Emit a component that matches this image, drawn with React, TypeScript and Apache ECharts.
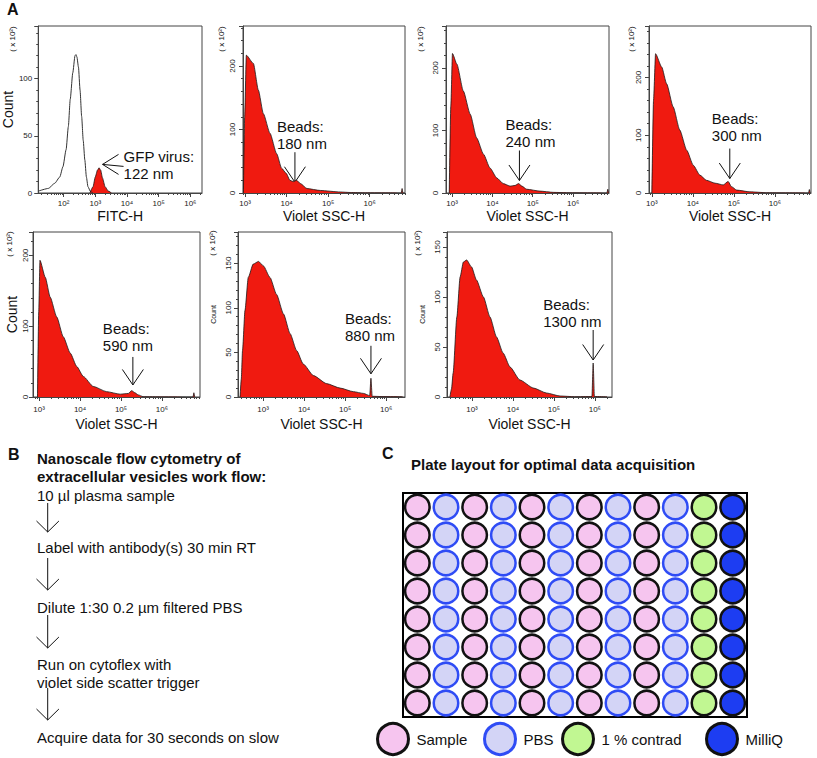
import React, { useEffect, useRef } from 'react';
import * as echarts from 'echarts';

const FONT = '"Liberation Sans", Arial, Helvetica, sans-serif';
const RED = '#f01a10';

// ---------- Panel A data (x = log10 of channel intensity, y = count ×10²) ----------
const gfpOutlineLogX = [1.22, 1.52, 1.72, 1.88, 1.98, 2.08, 2.15, 2.21, 2.29, 2.36, 2.39, 2.42, 2.47, 2.52, 2.57, 2.62, 2.67, 2.72, 2.77, 2.85, 2.93];
const gfpOutlineCount = [1.8, 4, 8.5, 14, 23, 38, 58, 82, 105, 120, 121, 119, 110, 90, 67, 46, 29, 14, 5.5, 1.2, 0];
const gfpVirusLogX = [2.83, 2.93, 3.0, 3.07, 3.12, 3.17, 3.23, 3.31, 3.41, 3.51];
const gfpVirusCount = [0, 5.5, 14, 20, 22, 20, 13, 5.5, 1.7, 0];

const beads180LogX = [2.96, 2.99, 3.03, 3.2, 3.32, 3.44, 3.6, 3.76, 3.88, 3.99, 4.08, 4.16, 4.24, 4.33, 4.49, 4.81, 5.29, 5.53, 5.9, 6.5, 6.76, 6.78, 6.8, 6.84];
const beads180Count = [0, 120, 217, 204, 162, 125, 94, 62, 39, 31, 20, 18, 20, 15, 7, 4, 1.6, 0.8, 0.4, 0.3, 0, 7, 0, 0];

const beads240LogX = [2.93, 2.97, 3.01, 3.12, 3.28, 3.45, 3.61, 3.78, 3.94, 4.11, 4.27, 4.44, 4.56, 4.65, 4.73, 4.85, 5.18, 5.51, 5.84, 6.5, 6.84, 6.86, 6.88];
const beads240Count = [0, 140, 223, 206, 163, 126, 88, 62, 40, 24, 15, 11, 12, 15, 11, 6, 3, 1, 0.5, 0.3, 0, 6, 0];

const beads300LogX = [3.0, 3.04, 3.09, 3.24, 3.36, 3.52, 3.68, 3.85, 4.01, 4.17, 4.33, 4.54, 4.74, 4.86, 4.94, 5.07, 5.39, 5.8, 6.5, 6.82, 6.84, 6.86];
const beads300Count = [0, 160, 241, 218, 189, 149, 109, 74, 48, 31, 22, 17, 14, 20, 11, 5, 2, 0.5, 0.3, 0, 6, 0];

const beads590LogX = [2.96, 2.99, 3.02, 3.15, 3.27, 3.43, 3.59, 3.76, 3.92, 4.08, 4.32, 4.65, 4.98, 5.18, 5.26, 5.34, 5.42, 5.54, 6.0, 6.76, 6.78, 6.8];
const beads590Count = [0, 120, 193, 169, 141, 113, 85, 62, 43, 29, 15, 7.5, 4, 5, 9, 6, 3, 0.5, 0.3, 0, 6, 0];

const beads880LogX = [2.44, 2.47, 2.5, 2.56, 2.64, 2.76, 2.89, 3.01, 3.17, 3.33, 3.5, 3.66, 3.82, 3.98, 4.23, 4.55, 4.88, 5.2, 5.45, 5.6, 5.63, 5.66, 5.9, 6.4];
const beads880Count = [0, 20, 52, 97, 134, 149, 152, 147, 134, 115, 93, 71, 52, 37, 24, 15, 10, 6, 4, 1.5, 21, 0.8, 0.5, 0.3];

const beads1300LogX = [2.46, 2.5, 2.54, 2.63, 2.71, 2.79, 2.87, 2.99, 3.11, 3.28, 3.44, 3.6, 3.76, 3.93, 4.17, 4.5, 4.82, 5.15, 5.5, 5.93, 5.96, 5.99, 6.3];
const beads1300Count = [0, 8, 24, 80, 120, 135, 137, 130, 117, 100, 80, 60, 44, 30, 17, 9, 4, 1, 0.3, 0.5, 34, 0.5, 0.2];

const majorDecadesGfp = [2, 3, 4, 5, 6];
const majorDecadesSsc = [3, 4, 5, 6];
const minorMultipliers = [2, 3, 4, 5, 6, 7, 8, 9];

// ---------- Panel B text ----------
const workflowHeading = ['Nanoscale flow cytometry of', 'extracellular vesicles work flow:'];
const workflowSteps = [
  ['10 µl plasma sample'],
  ['Label with antibody(s) 30 min RT'],
  ['Dilute 1:30 0.2 µm filtered PBS'],
  ['Run on cytoflex with', 'violet side scatter trigger'],
  ['Acquire data for 30 seconds on slow'],
];

// ---------- Panel C data ----------
const plateRows = ['A', 'B', 'C', 'D', 'E', 'F', 'G', 'H'];
const plateCols = ['1', '2', '3', '4', '5', '6', '7', '8', '9', '10', '11', '12'];
const plateColumnContent = ['Sample', 'PBS', 'Sample', 'PBS', 'Sample', 'PBS', 'Sample', 'PBS', 'Sample', 'PBS', '1 % contrad', 'MilliQ'];
const wellTypes = ['Sample', 'PBS', '1 % contrad', 'MilliQ'];

// ---------- layout / style ----------
const wellStyle: Record<string, { fill: string; border: string }> = {
  Sample: { fill: '#f6c5ef', border: '#111111' },
  PBS: { fill: '#d3d4f6', border: '#2f4cf5' },
  '1 % contrad': { fill: '#c1f792', border: '#111111' },
  MilliQ: { fill: '#1d3df2', border: '#111111' },
};
const legendPos: Record<string, number> = { Sample: 376, PBS: 483, '1 % contrad': 561, MilliQ: 705 };

type Panel = {
  left: number; top: number; width: number; height: number;
  xMin: number; xMax: number; yMax: number; yInt: number;
  majors: number[]; xName: string; xNameGap: number; xLabelMargin: number;
  yRotate: number; yLabelMargin: number; yName?: string; yNameSize?: number; yNameGap?: number;
  scaleLbl: [number, number];
  fills: { x: number[]; y: number[]; fill: boolean }[];
};

const panels: Panel[] = [
  { left: 33, top: 26, width: 169, height: 167, xMin: 1.2, xMax: 6.37, yMax: 146, yInt: 50, majors: majorDecadesGfp, xName: 'FITC-H', xNameGap: 16, xLabelMargin: 6, yRotate: 0, yLabelMargin: 6, yName: 'Count', yNameSize: 14, yNameGap: 15, scaleLbl: [12, 39],
    fills: [{ x: gfpOutlineLogX, y: gfpOutlineCount, fill: false }, { x: gfpVirusLogX, y: gfpVirusCount, fill: true }] },
  { left: 243, top: 26, width: 162, height: 167, xMin: 2.95, xMax: 6.85, yMax: 263, yInt: 100, majors: majorDecadesSsc, xName: 'Violet SSC-H', xNameGap: 16, xLabelMargin: 6, yRotate: 90, yLabelMargin: 7, scaleLbl: [221.7, 39],
    fills: [{ x: beads180LogX, y: beads180Count, fill: true }] },
  { left: 446, top: 26, width: 163, height: 167, xMin: 2.85, xMax: 6.89, yMax: 267, yInt: 100, majors: majorDecadesSsc, xName: 'Violet SSC-H', xNameGap: 16, xLabelMargin: 6, yRotate: 90, yLabelMargin: 7, scaleLbl: [420, 39],
    fills: [{ x: beads240LogX, y: beads240Count, fill: true }] },
  { left: 649, top: 26, width: 162, height: 167, xMin: 2.93, xMax: 6.88, yMax: 289, yInt: 100, majors: majorDecadesSsc, xName: 'Violet SSC-H', xNameGap: 16, xLabelMargin: 6, yRotate: 90, yLabelMargin: 7, scaleLbl: [631.7, 39],
    fills: [{ x: beads300LogX, y: beads300Count, fill: true }] },
  { left: 33, top: 232, width: 167, height: 165, xMin: 2.85, xMax: 6.93, yMax: 233, yInt: 100, majors: majorDecadesSsc, xName: 'Violet SSC-H', xNameGap: 20, xLabelMargin: 8, yRotate: 90, yLabelMargin: 4, yName: 'Count', yNameSize: 14, yNameGap: 14, scaleLbl: [9, 244],
    fills: [{ x: beads590LogX, y: beads590Count, fill: true }] },
  { left: 238, top: 232, width: 167, height: 165, xMin: 2.39, xMax: 6.46, yMax: 185, yInt: 50, majors: majorDecadesSsc, xName: 'Violet SSC-H', xNameGap: 20, xLabelMargin: 8, yRotate: 90, yLabelMargin: 6, yName: 'Count', yNameSize: 7, yNameGap: 21, scaleLbl: [212.5, 243],
    fills: [{ x: beads880LogX, y: beads880Count, fill: true }] },
  { left: 447, top: 232, width: 165, height: 165, xMin: 2.39, xMax: 6.42, yMax: 165, yInt: 50, majors: majorDecadesSsc, xName: 'Violet SSC-H', xNameGap: 20, xLabelMargin: 8, yRotate: 90, yLabelMargin: 6, yName: 'Count', yNameSize: 7, yNameGap: 21, scaleLbl: [417, 243],
    fills: [{ x: beads1300LogX, y: beads1300Count, fill: true }] },
];

type Annot = { panel: number; tip: [number, number]; lines: string[]; dir: 'down' | 'left'; shaft: number; textDx: number; gap: number };
const annotations: Annot[] = [
  { panel: 0, tip: [3.23, 25], lines: ['GFP virus:', '122 nm'], dir: 'left', shaft: 21, textDx: 21, gap: 0 },
  { panel: 1, tip: [4.2, 17], lines: ['Beads:', '180 nm'], dir: 'down', shaft: 30, textDx: -18, gap: 0 },
  { panel: 2, tip: [4.67, 20], lines: ['Beads:', '240 nm'], dir: 'down', shaft: 30, textDx: -14, gap: 0 },
  { panel: 3, tip: [4.9, 25], lines: ['Beads:', '300 nm'], dir: 'down', shaft: 30, textDx: -18, gap: 5 },
  { panel: 4, tip: [5.29, 17], lines: ['Beads:', '590 nm'], dir: 'down', shaft: 28, textDx: -30, gap: 3 },
  { panel: 5, tip: [5.63, 26], lines: ['Beads:', '880 nm'], dir: 'down', shaft: 28, textDx: -26, gap: 2 },
  { panel: 6, tip: [5.96, 37], lines: ['Beads:', '1300 nm'], dir: 'down', shaft: 30, textDx: -50, gap: 0 },
];

const SUP: Record<string, string> = { '0': '⁰', '1': '¹', '2': '²', '3': '³', '4': '⁴', '5': '⁵', '6': '⁶', '7': '⁷', '8': '⁸', '9': '⁹' };
const decadeLabel = (v: number) => '10' + String(Math.round(v)).split('').map((c) => SUP[c] || c).join('');

function minorTicks(min: number, max: number): number[] {
  const out: number[] = [];
  for (let d = Math.floor(min); d <= Math.ceil(max); d++) {
    for (const k of minorMultipliers) {
      const v = d + Math.log10(k);
      if (v > min && v < max) out.push(v);
    }
  }
  return out;
}

const txt = (x: number, y: number, text: string, size: number, opts: any = {}) => ({
  type: 'text', x, y, silent: true, rotation: opts.rotation || 0,
  style: {
    text, fontSize: size, fontFamily: FONT, fontWeight: opts.bold ? 'bold' : 'normal', fill: opts.color || '#111',
    textAlign: opts.align || 'left', align: opts.align || 'left',
    textVerticalAlign: opts.valign || 'top', verticalAlign: opts.valign || 'top',
    lineHeight: opts.lineHeight,
  },
});
const seg = (x1: number, y1: number, x2: number, y2: number, w = 1) => ({
  type: 'line', silent: true, shape: { x1, y1, x2, y2 }, style: { stroke: '#111', lineWidth: w },
});
const chev = (pts: number[][], w = 1) => ({
  type: 'polyline', silent: true, shape: { points: pts }, style: { stroke: '#111', lineWidth: w, fill: 'none' },
});

function buildStaticGraphic() {
  const g: any[] = [];
  g.push(txt(7, 1, 'A', 16, { bold: true }));
  g.push(txt(8, 446, 'B', 16, { bold: true }));
  g.push(txt(382, 445, 'C', 16, { bold: true }));
  panels.forEach((p) => {
    g.push(txt(p.scaleLbl[0], p.scaleLbl[1], '( x 10²)', 8, { rotation: Math.PI / 2, align: 'center', valign: 'middle' }));
  });
  // panel B
  g.push(txt(37, 449, workflowHeading.join('\n'), 15, { bold: true, lineHeight: 18 }));
  const stepTops = [486, 538, 598, 655, 728];
  const arrows = [[503, 532], [558, 590], [615, 648], [688, 720]];
  workflowSteps.forEach((s, i) => g.push(txt(37, stepTops[i], s.join('\n'), 15, { lineHeight: 18 })));
  arrows.forEach(([y1, y2]) => {
    g.push(seg(47.7, y1, 47.7, y2));
    g.push(chev([[36.5, y2 - 11], [47.7, y2], [58.9, y2 - 11]]));
  });
  // panel C title
  g.push(txt(411, 457, 'Plate layout for optimal data acquisition', 15, { bold: true }));
  return g;
}

export default function App() {
  const ref = useRef<HTMLDivElement>(null);
  useEffect(() => {
    if (!ref.current) return;
    const chart = echarts.init(ref.current, null, { renderer: 'svg' });

    const grid: any[] = [];
    const xAxis: any[] = [];
    const yAxis: any[] = [];
    const series: any[] = [];
    const panelSeries: number[] = [];
    const axisTextStyle = { fontFamily: FONT, fontSize: 8, color: '#222' };

    panels.forEach((p, i) => {
      grid.push({ left: p.left, top: p.top, width: p.width, height: p.height, show: true, borderColor: '#444', borderWidth: 1, containLabel: false });
      xAxis.push({
        type: 'value', gridIndex: i, min: p.xMin, max: p.xMax, position: 'bottom',
        name: p.xName, nameLocation: 'middle', nameGap: p.xNameGap,
        nameTextStyle: { fontFamily: FONT, fontSize: 14, color: '#111' },
        axisLine: { show: true, lineStyle: { color: '#444', width: 1 } },
        axisTick: { show: true, length: 4, customValues: p.majors, lineStyle: { color: '#444' } },
        axisLabel: { show: true, customValues: p.majors, formatter: (v: number) => decadeLabel(v), margin: p.xLabelMargin, ...axisTextStyle },
        splitLine: { show: false },
      });
      xAxis.push({
        type: 'value', gridIndex: i, min: p.xMin, max: p.xMax, position: 'bottom',
        axisLine: { show: false },
        axisTick: { show: true, length: 2, customValues: minorTicks(p.xMin, p.xMax), lineStyle: { color: '#444' } },
        axisLabel: { show: false },
        splitLine: { show: false },
      });
      yAxis.push({
        type: 'value', gridIndex: i, min: 0, max: p.yMax, interval: p.yInt,
        name: p.yName || '', nameLocation: 'middle', nameGap: p.yNameGap || 20, nameRotate: 90,
        nameTextStyle: { fontFamily: FONT, fontSize: p.yNameSize || 14, color: '#111' },
        axisLine: { show: true, lineStyle: { color: '#444', width: 1 } },
        axisTick: { show: true, length: 4, lineStyle: { color: '#444' } },
        minorTick: { show: true, splitNumber: 5, length: 2, lineStyle: { color: '#444' } },
        axisLabel: {
          show: true, rotate: p.yRotate, margin: p.yLabelMargin, ...axisTextStyle,
          formatter: (v: number) => (Math.abs(v % p.yInt) < 1e-6 ? String(v) : ''),
        },
        splitLine: { show: false },
      });
      p.fills.forEach((f, k) => {
        if (k === p.fills.length - 1) panelSeries[i] = series.length;
        series.push({
          type: 'line', xAxisIndex: i * 2, yAxisIndex: i, symbol: 'none', smooth: 0.2, smoothMonotone: 'x',
          data: f.x.map((x, j) => [x, f.y[j]]),
          lineStyle: { color: f.fill ? '#1a1a1a' : '#333', width: f.fill ? 0.8 : 1 },
          areaStyle: f.fill ? { color: RED, opacity: 1 } : undefined,
          silent: true, z: 3,
        });
      });
    });

    // Plate (panel C)
    const pg = panels.length;
    grid.push({ left: 403, top: 493, width: 344, height: 224, show: true, borderColor: '#000', borderWidth: 2 });
    xAxis.push({ type: 'category', gridIndex: pg, data: plateCols, show: false });
    yAxis.push({ type: 'category', gridIndex: pg, data: plateRows, show: false, inverse: true });
    const plateXIndex = xAxis.length - 1;
    wellTypes.forEach((t) => {
      const data: number[][] = [];
      plateColumnContent.forEach((c, ci) => {
        if (c === t) plateRows.forEach((_, ri) => data.push([ci, ri]));
      });
      series.push({
        type: 'scatter', name: t, xAxisIndex: plateXIndex, yAxisIndex: pg, symbol: 'circle', symbolSize: 24.5,
        data, silent: true,
        itemStyle: { color: wellStyle[t].fill, borderColor: wellStyle[t].border, borderWidth: 2.5, opacity: 1 },
      });
    });

    const legend = wellTypes.map((t) => ({
      data: [{ name: t, icon: 'circle', itemStyle: { borderWidth: 3, borderColor: wellStyle[t].border, color: wellStyle[t].fill } }],
      left: legendPos[t], top: 722, padding: 0, itemWidth: 31, itemHeight: 31, selectedMode: false,
      textStyle: { fontFamily: FONT, fontSize: 15, color: '#111', padding: [0, 0, 0, 3] },
    }));

    const staticGraphic = buildStaticGraphic();

    chart.setOption({ animation: false, backgroundColor: '#fff', grid, xAxis, yAxis, series, legend, graphic: staticGraphic });

    const annGraphic: any[] = [];
    annotations.forEach((a) => {
      const pt = chart.convertToPixel({ seriesIndex: panelSeries[a.panel] }, [a.tip[0], a.tip[1]]) as number[];
      const [tx, ty] = pt;
      if (a.dir === 'down') {
        annGraphic.push(seg(tx, ty - a.shaft, tx, ty));
        annGraphic.push(chev([[tx - 10.5, ty - 15.5], [tx, ty], [tx + 10.5, ty - 15.5]]));
        annGraphic.push(txt(tx + a.textDx, ty - a.shaft - a.gap, a.lines.join('\n'), 15, { valign: 'bottom', lineHeight: 17 }));
      } else {
        annGraphic.push(seg(tx, ty, tx + a.shaft, ty + 2));
        annGraphic.push(chev([[tx + 16, ty - 10], [tx, ty], [tx + 16, ty + 10]]));
        annGraphic.push(txt(tx + a.textDx, ty - 16, a.lines.join('\n'), 15, { valign: 'top', lineHeight: 17 }));
      }
    });
    chart.setOption({ graphic: [...staticGraphic, ...annGraphic] });

    return () => chart.dispose();
  }, []);

  return <div ref={ref} style={{ position: 'absolute', left: 0, top: 0, width: 817, height: 758, background: '#fff' }} />;
}
